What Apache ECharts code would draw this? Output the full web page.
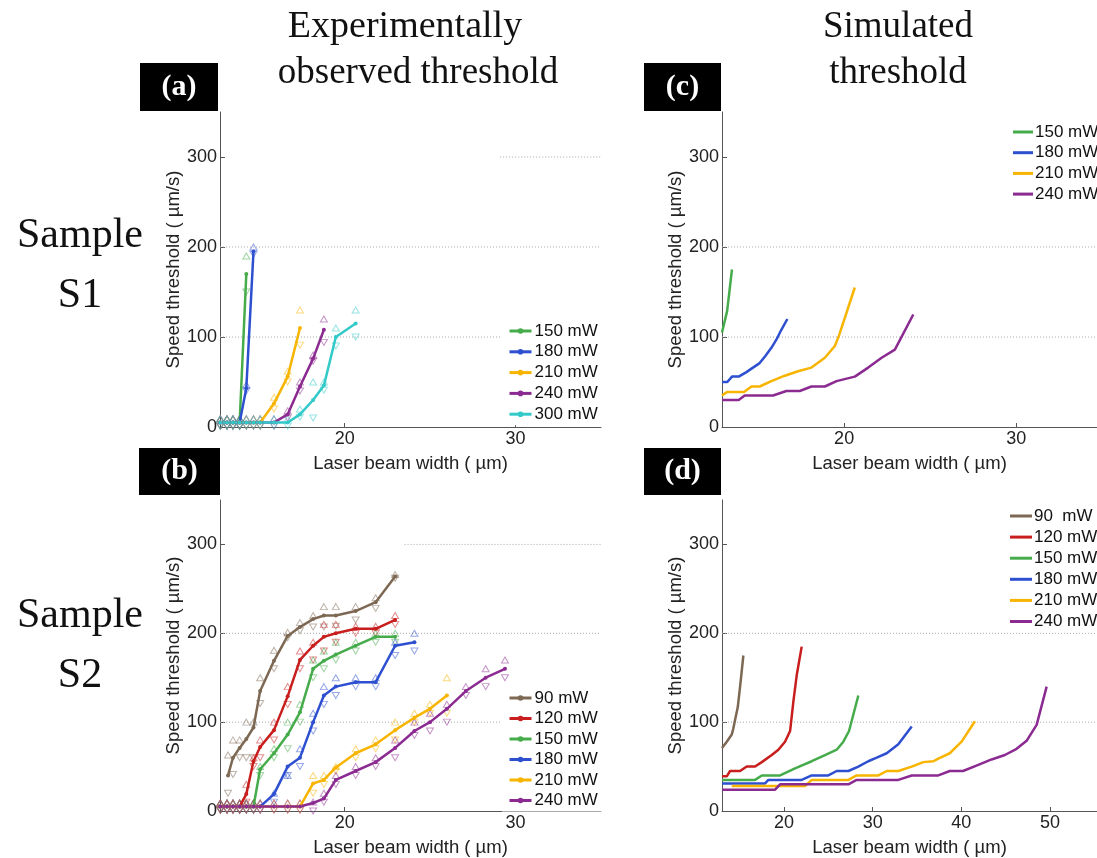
<!DOCTYPE html>
<html><head><meta charset="utf-8">
<script src="https://cdn.jsdelivr.net/npm/echarts@6/dist/echarts.min.js"></script>
<style>html,body{margin:0;padding:0;background:#fff;}#c{width:1097px;height:858px;}</style>
</head><body><div id="c"></div>
<script>
// ---------- Panel (a): experimental, sample S1 ----------
const a150_x = [12.72,13.11,13.46,13.85,14.24];
const a150_y = [5,5,5,5,170];
const a150_hi = [9,9,9,9,190];
const a150_lo = [1,1,1,1,150];
const a180_x = [12.72,13.11,13.46,13.85,14.24,14.66];
const a180_y = [5,5,5,5,43,195];
const a180_hi = [9,9,9,9,47,200];
const a180_lo = [1,1,1,1,40,192];
const a210_x = [12.72,13.11,13.46,13.85,14.24,14.66,15.05,15.86,16.66,17.38];
const a210_y = [5,5,5,5,5,5,5,26,56,110];
const a210_hi = [9,9,9,9,9,9,9,33,62,130];
const a210_lo = [1,1,1,1,1,1,1,20,50,91];
const a240_x = [12.72,13.11,13.46,13.85,14.24,14.66,15.05,15.86,16.66,17.38,18.15,18.78];
const a240_y = [5,5,5,5,5,5,5,5,14,45,76,108];
const a240_hi = [9,9,9,9,9,9,9,9,18,50,80,120];
const a240_lo = [1,1,1,1,1,1,1,1,10,40,73,94];
const a300_x = [12.72,13.11,13.46,13.85,14.24,14.66,15.05,15.86,16.66,17.38,18.15,18.78,19.48,20.64];
const a300_y = [5,5,5,5,5,5,5,5,5,14,30,46,100,115];
const a300_hi = [9,9,9,9,9,9,9,9,9,20,50,50,110,130];
const a300_lo = [1,1,1,1,1,1,1,1,1,11,10,41,90,100];

// ---------- Panel (b): experimental, sample S2 ----------
const b90_x = [13.17,13.46,13.85,14.24,14.66,15.05,15.86,16.66,17.38,18.15,18.78,19.48,20.64,21.81,22.95];
const b90_y = [40,60,71,81,94,135,169,197,207,216,220,220,225,235,264];
const b90_hi = [63,80,80,100,100,150,181,201,212,220,230,230,230,240,266];
const b90_lo = [20,41,60,60,60,121,160,195,203,207,207,208,215,228,262];
const b120_x = [12.72,13.11,13.46,13.85,14.24,14.66,15.05,15.86,16.66,17.38,18.15,18.78,19.48,20.64,21.81,22.95];
const b120_y = [5,5,5,5,19,56,72,91,129,170,186,196,200,205,205,215];
const b120_hi = [9,9,9,9,30,60,80,100,140,180,190,210,210,208,208,220];
const b120_lo = [1,1,1,1,10,50,60,80,120,160,170,180,190,200,200,210];
const b150_x = [12.72,13.11,13.46,13.85,14.24,14.66,15.05,15.86,16.66,17.38,18.15,18.78,19.48,20.64,21.81,22.95];
const b150_y = [5,5,5,5,5,5,47,65,86,111,160,169,176,186,196,196];
const b150_hi = [9,9,9,9,9,9,50,70,100,120,170,180,190,190,200,200];
const b150_lo = [1,1,1,1,1,1,40,60,70,100,150,160,170,180,190,190];
const b180_x = [12.72,13.11,13.46,13.85,14.24,14.66,15.05,15.86,16.66,17.38,18.15,18.78,19.48,20.64,21.81,22.95,24.08];
const b180_y = [5,5,5,5,5,5,5,19,50,60,100,130,140,145,145,186,190];
const b180_hi = [9,9,9,9,9,9,9,20,40,70,110,140,150,150,150,190,200];
const b180_lo = [1,1,1,1,1,1,1,10,40,50,90,120,130,140,140,175,180];
const b210_x = [12.72,13.11,13.46,13.85,14.24,14.66,15.05,15.86,16.66,17.38,18.15,18.78,19.48,20.64,21.81,22.95,24.08,24.99,25.98];
const b210_y = [5,5,5,5,5,5,5,5,5,5,31,35,49,65,75,91,105,115,130];
const b210_hi = [9,9,9,9,9,9,9,9,9,9,40,40,50,70,80,100,110,120,150];
const b210_lo = [1,1,1,1,1,1,1,1,1,1,20,30,45,60,70,80,100,110,110];
const b240_x = [12.72,13.11,13.46,13.85,14.24,14.66,15.05,15.86,16.66,17.38,18.15,18.78,19.48,20.64,21.81,22.95,24.08,24.99,25.98,27.09,28.25,29.38];
const b240_y = [5,5,5,5,5,5,5,5,5,5,9,14,35,45,55,71,90,100,115,135,150,160];
const b240_hi = [9,9,9,9,9,9,9,9,9,9,10,20,40,50,60,80,100,110,120,140,160,170];
const b240_lo = [1,1,1,1,1,1,1,1,1,1,0,10,30,40,50,60,85,90,100,130,140,150];

// ---------- Panel (c): simulated, sample S1 ----------
const c150_x = [12.9,13.2,13.48];
const c150_y = [105,129,175];
const c180_x = [12.9,13.21,13.48,13.87,14.32,14.70,15.09,15.42,15.77,16.06,16.35,16.70];
const c180_y = [50,50,56,56,61,66,71,79,88,97,108,120];
const c210_x = [12.9,13.21,14.18,14.61,15.09,15.77,16.55,17.32,18.10,18.88,19.46,19.69,20.62];
const c210_y = [35,39,39,45,45,51,57,62,66,77,90,101,155];
const c240_x = [12.9,13.87,14.22,15.87,16.64,17.42,18.10,18.88,19.56,20.62,21.40,22.18,22.95,24.02];
const c240_y = [30,30,35,35,40,40,45,45,51,56,66,77,86,125];

// ---------- Panel (d): simulated, sample S2 ----------
const d90_x = [13.0,13.54,14.10,14.28,14.78,15.04,15.41];
const d90_y = [71,78,86,93,117,140,175];
const d120_x = [13.0,13.54,13.91,15.04,15.79,16.73,17.49,18.61,19.36,20.11,20.68,21.05,21.43,21.99];
const d120_y = [39,39,45,45,50,50,55,63,69,78,90,123,153,185];
const d150_x = [13.0,16.73,17.49,19.55,21.24,23.12,24.62,25.94,26.69,27.33,28.38];
const d150_y = [35,35,40,40,48,56,63,69,78,90,130];
const d180_x = [13.0,17.86,18.23,21.99,23.12,24.99,25.94,27.26,28.38,29.50,30.45,31.58,32.89,34.40];
const d180_y = [31,31,35,35,40,40,45,45,50,56,60,65,75,95];
const d210_x = [14.10,22.37,23.12,27.26,28.19,30.64,31.58,32.89,34.40,35.71,36.84,37.40,38.69,40.03,41.53];
const d210_y = [28,28,35,35,40,40,45,45,50,55,56,59,65,78,101];
const d240_x = [13.0,18.99,19.55,27.26,28.19,32.89,34.40,37.40,38.69,40.19,41.91,43.41,44.91,46.23,47.36,48.49,49.62];
const d240_y = [24,24,30,30,35,35,40,40,45,45,52,58,63,70,79,97,140];

// ---------- axes / ticks / gridlines ----------
const xTicksABC = [20, 30];
const xTicksD = [20, 30, 40, 50];
const yTicks = [0, 100, 200, 300];
const xRangeAB = [12.7, 35];
const xRangeC = [12.9, 34.7];
const xRangeD = [13, 55.3];
const yRange = [0, 350];
// dotted horizontal gridline segments [x0, x1, y]
const gridA = [[12.7,35,100],[12.7,35,200],[29.1,35,300]];
const gridB = [[12.7,35,100],[12.7,35,200],[23.5,35,300]];
const gridC = [[12.9,34.7,100],[12.9,34.7,200]];
const gridD = [[13,55.3,100],[13,55.3,200]];

const C = {
  g:'#46ac4b', b:'#2d4fd0', y:'#f7b400', p:'#8b2a90', cy:'#33c9c9', br:'#7d6853', r:'#c81e1e'
};
const F = 'Liberation Sans';

function pairs(xs, ys){ return xs.map((x,i)=>[x, ys[i]]); }
function expSeries(name, color, xs, ys, hi, lo, gi){
  return [
    {type:'scatter', name:name+'#hi', xAxisIndex:gi, yAxisIndex:gi, data:pairs(xs,hi), symbol:'triangle', symbolSize:[7,6],
     itemStyle:{color:'rgba(255,255,255,0)', borderColor:color, borderWidth:1, opacity:0.5}, z:2, silent:true},
    {type:'scatter', name:name+'#lo', xAxisIndex:gi, yAxisIndex:gi, data:pairs(xs,lo), symbol:'triangle', symbolRotate:180, symbolSize:[7,6],
     itemStyle:{color:'rgba(255,255,255,0)', borderColor:color, borderWidth:1, opacity:0.5}, z:2, silent:true},
    {type:'line', name:name, xAxisIndex:gi, yAxisIndex:gi, data:pairs(xs,ys), symbol:'circle', symbolSize:4, showSymbol:true,
     lineStyle:{color:color, width:2.5}, itemStyle:{color:color}, z:3, silent:true}
  ];
}
function simSeries(name, color, xs, ys, gi){
  return {type:'line', name:name, xAxisIndex:gi, yAxisIndex:gi, data:pairs(xs,ys), symbol:'none',
    lineStyle:{color:color, width:2.5}, itemStyle:{color:color}, z:3, silent:true};
}
function gridSeries(segs, gi){
  return segs.map((s,k)=>({type:'line', name:'grid'+gi+'_'+k, xAxisIndex:gi, yAxisIndex:gi, data:[[s[0],s[2]],[s[1],s[2]]],
    symbol:'none', lineStyle:{color:'#a8a8a8', width:1, type:[1,2]}, z:1, silent:true}));
}
function xAx(gi, range, ticks){
  return {type:'value', gridIndex:gi, min:range[0], max:range[1],
    name:'Laser beam width ( µm)', nameLocation:'middle', nameGap:27,
    nameTextStyle:{fontSize:18.5, fontFamily:F, color:'#222'},
    axisLine:{show:true, onZero:false, lineStyle:{color:'#555', width:1}},
    axisTick:{show:true, inside:true, length:4, customValues:ticks, lineStyle:{color:'#555'}},
    axisLabel:{show:true, customValues:ticks, fontSize:18, fontFamily:F, color:'#222', margin:3},
    splitLine:{show:false}};
}
function yAx(gi){
  return {type:'value', gridIndex:gi, min:yRange[0], max:yRange[1],
    name:'Speed threshold ( µm/s)', nameLocation:'middle', nameGap:35,
    nameTextStyle:{fontSize:18.5, fontFamily:F, color:'#222'},
    axisLine:{show:true, lineStyle:{color:'#555', width:1}},
    axisTick:{show:true, inside:true, length:5, customValues:yTicks, lineStyle:{color:'#555'}},
    axisLabel:{show:true, customValues:yTicks, fontSize:18, fontFamily:F, color:'#222', margin:3},
    splitLine:{show:false}};
}
function legendExp(names, left, top, gap){
  return {data:names, orient:'vertical', left:left, top:top, itemWidth:22, itemHeight:7, itemGap:gap,
    padding:[4,4,2,6], backgroundColor:'#fff', selectedMode:false,
    lineStyle:{width:3}, itemStyle:{borderWidth:0},
    formatter:function(n){ return n.split(':')[1]; },
    textStyle:{fontSize:17, fontFamily:F, color:'#111', lineHeight:18, padding:[0,0,0,-2]}};
}
function legendSim(names, left, top, gap, iw){
  return {data:names, orient:'vertical', left:left, top:top, itemWidth:iw, itemHeight:3, itemGap:gap, icon:'rect',
    padding:[4,4,2,6], backgroundColor:'#fff', selectedMode:false,
    formatter:function(n){ return n.split(':')[1]; },
    textStyle:{fontSize:17, fontFamily:F, color:'#111', lineHeight:18, padding:[0,0,0,-3]}};
}

const series = [].concat(
  gridSeries(gridA,0), gridSeries(gridB,1), gridSeries(gridC,2), gridSeries(gridD,3),
  expSeries('a:150 mW', C.g, a150_x, a150_y, a150_hi, a150_lo, 0),
  expSeries('a:180 mW', C.b, a180_x, a180_y, a180_hi, a180_lo, 0),
  expSeries('a:210 mW', C.y, a210_x, a210_y, a210_hi, a210_lo, 0),
  expSeries('a:240 mW', C.p, a240_x, a240_y, a240_hi, a240_lo, 0),
  expSeries('a:300 mW', C.cy, a300_x, a300_y, a300_hi, a300_lo, 0),
  expSeries('b:90 mW', C.br, b90_x, b90_y, b90_hi, b90_lo, 1),
  expSeries('b:120 mW', C.r, b120_x, b120_y, b120_hi, b120_lo, 1),
  expSeries('b:150 mW', C.g, b150_x, b150_y, b150_hi, b150_lo, 1),
  expSeries('b:180 mW', C.b, b180_x, b180_y, b180_hi, b180_lo, 1),
  expSeries('b:210 mW', C.y, b210_x, b210_y, b210_hi, b210_lo, 1),
  expSeries('b:240 mW', C.p, b240_x, b240_y, b240_hi, b240_lo, 1),
  [simSeries('c:150 mW', C.g, c150_x, c150_y, 2),
   simSeries('c:180 mW', C.b, c180_x, c180_y, 2),
   simSeries('c:210 mW', C.y, c210_x, c210_y, 2),
   simSeries('c:240 mW', C.p, c240_x, c240_y, 2),
   simSeries('d:90  mW', C.br, d90_x, d90_y, 3),
   simSeries('d:120 mW', C.r, d120_x, d120_y, 3),
   simSeries('d:150 mW', C.g, d150_x, d150_y, 3),
   simSeries('d:180 mW', C.b, d180_x, d180_y, 3),
   simSeries('d:210 mW', C.y, d210_x, d210_y, 3),
   simSeries('d:240 mW', C.p, d240_x, d240_y, 3)]
);

function box(x, y, w, h, label){
  return [
    {type:'rect', left:x, top:y, shape:{width:w, height:h}, style:{fill:'#000'}, z:10},
    {type:'text', x:x+w/2, y:y+h/2, style:{text:label, fill:'#fff', font:'bold 30px "Liberation Serif"', textAlign:'center', textVerticalAlign:'middle'}, z:11}
  ];
}
function serifText(x, y, txt, size){
  return {type:'text', x:x, y:y, style:{text:txt, fill:'#111', font:size+'px "Liberation Serif"', textAlign:'center', textVerticalAlign:'middle'}, z:11};
}

const option = {
  animation:false,
  backgroundColor:'#fff',
  grid:[
    {left:220, top:112, width:381, height:315},
    {left:220, top:500, width:381, height:313},
    {left:722, top:112, width:375, height:315},
    {left:722, top:500, width:375, height:313}
  ],
  xAxis:[xAx(0,xRangeAB,xTicksABC), xAx(1,xRangeAB,xTicksABC), xAx(2,xRangeC,xTicksABC), xAx(3,xRangeD,xTicksD)],
  yAxis:[yAx(0), yAx(1), yAx(2), yAx(3)],
  legend:[
    legendExp(['a:150 mW','a:180 mW','a:210 mW','a:240 mW','a:300 mW'], 502, 318, 2.8),
    legendExp(['b:90 mW','b:120 mW','b:150 mW','b:180 mW','b:210 mW','b:240 mW'], 502, 685, 2.5),
    legendSim(['c:150 mW','c:180 mW','c:210 mW','c:240 mW'], 1007, 119, 2.7, 20),
    legendSim(['d:90  mW','d:120 mW','d:150 mW','d:180 mW','d:210 mW','d:240 mW'], 1004, 503, 3.1, 22)
  ],
  graphic:[].concat(
    box(140,63,78,48,'(a)'), box(644,63,77,48,'(c)'), box(139,448,81,47,'(b)'), box(644,448,77,47,'(d)'),
    [serifText(405,27,'Experimentally',38), serifText(418,73,'observed threshold',37),
     serifText(898,27,'Simulated',37), serifText(898,73,'threshold',37),
     serifText(80,236,'Sample',42), serifText(80,296,'S1',42),
     serifText(80,616,'Sample',42), serifText(80,676,'S2',42)]
  ),
  series:series
};
const chart = echarts.init(document.getElementById('c'), null, {renderer:'canvas'});
chart.setOption(option);
</script></body></html>
